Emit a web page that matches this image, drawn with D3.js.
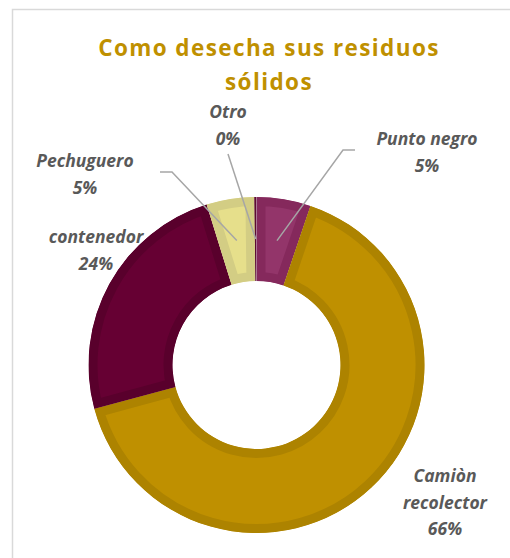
<!DOCTYPE html>
<html>
<head>
<meta charset="utf-8">
<script src="https://cdn.jsdelivr.net/npm/d3@7"></script>
<style>
  body { margin: 0; background: #fff; }
  svg { display: block; }
</style>
</head>
<body>
<div id="chart"></div>
<script>
var categories = ["Punto negro", "Camiòn recolector", "contenedor", "Pechuguero", "Otro"];
var values = [5.2, 65.6, 24.4, 4.6, 0.2];
var labelLines = [["Punto negro"], ["Camiòn", "recolector"], ["contenedor"], ["Pechuguero"], ["Otro"]];
var fills = ["#93356a", "#bf9000", "#660033", "#e6df8b", "#5c0a33"];
var bands = ["#85295c", "#ad8300", "#59002c", "#d3cd84", "#5c0a33"];

var svgWidth = 510;
var svgHeight = 558;
var cx = 256.5, cy = 365;
var outerR = 168, innerR = 84;

var svg = d3.select("#chart")
  .append("svg")
  .attr("width", svgWidth)
  .attr("height", svgHeight);

// chart area border (runs off the right and bottom edge)
svg.append("rect")
  .attr("x", 12.5).attr("y", 9.5)
  .attr("width", 600).attr("height", 600)
  .attr("fill", "#fff")
  .attr("stroke", "#d9d9d9")
  .attr("stroke-width", 1.5);

// title
var title = svg.append("text")
  .attr("text-anchor", "middle")
  .attr("font-family", "'Open Sans', sans-serif")
  .attr("font-weight", "bold")
  .attr("font-size", "22.5px")
  .attr("letter-spacing", "1.4px")
  .attr("fill", "#bf9000");
title.append("tspan").attr("x", 269).attr("y", 56).text("Como desecha sus residuos");
title.append("tspan").attr("x", 269).attr("y", 90).text("sólidos");

var pie = d3.pie().sort(null).value(d => d)(values);
var arc = d3.arc().innerRadius(innerR).outerRadius(outerR);
var midArc = d3.arc().innerRadius(126).outerRadius(126);

var g = svg.append("g").attr("transform", `translate(${cx}, ${cy})`);

var defs = svg.append("defs");
defs.selectAll("clipPath")
  .data(pie)
  .enter()
  .append("clipPath")
  .attr("id", (d, i) => "clip" + i)
  .append("path")
  .attr("d", arc);

// slices with a darker inner band
g.selectAll("path.slice")
  .data(pie)
  .enter()
  .append("path")
  .attr("class", "slice")
  .attr("d", arc)
  .attr("clip-path", (d, i) => `url(#clip${i})`)
  .attr("fill", (d, i) => fills[i])
  .attr("stroke", (d, i) => bands[i])
  .attr("stroke-width", (d, i) => i == 4 ? 3 : 18)
  .attr("stroke-linejoin", "miter");

// label positions
var labelPos = [
  { x: 427, y: 145 },
  { x: 445, y: 482 },
  { x: 96, y: 243 },
  { x: 85, y: 167 },
  { x: 228, y: 118 }
];
var leaderStart = [
  [[355, 150], [343, 150]],
  null,
  null,
  [[160, 172], [172, 172]],
  [[228, 154]]
];

// leader lines
pie.forEach(function(d, i) {
  if (!leaderStart[i]) return;
  var c = midArc.centroid(d);
  var pts = leaderStart[i].concat([[c[0] + cx, c[1] + cy]]);
  svg.append("path")
    .attr("d", d3.line()(pts))
    .attr("fill", "none")
    .attr("stroke", "#a6a6a6")
    .attr("stroke-width", 1.5);
});

// data labels
pie.forEach(function(d, i) {
  var t = svg.append("text")
    .attr("text-anchor", "middle")
    .attr("font-family", "'Open Sans', sans-serif")
    .attr("font-weight", "bold")
    .attr("font-style", "italic")
    .attr("font-size", "17.5px")
    .attr("fill", "#595959");
  var lines = labelLines[i].concat([Math.round(values[i]) + "%"]);
  lines.forEach(function(l, j) {
    t.append("tspan")
      .attr("x", labelPos[i].x)
      .attr("y", labelPos[i].y + j * 26.5)
      .text(l);
  });
});
</script>
</body>
</html>
